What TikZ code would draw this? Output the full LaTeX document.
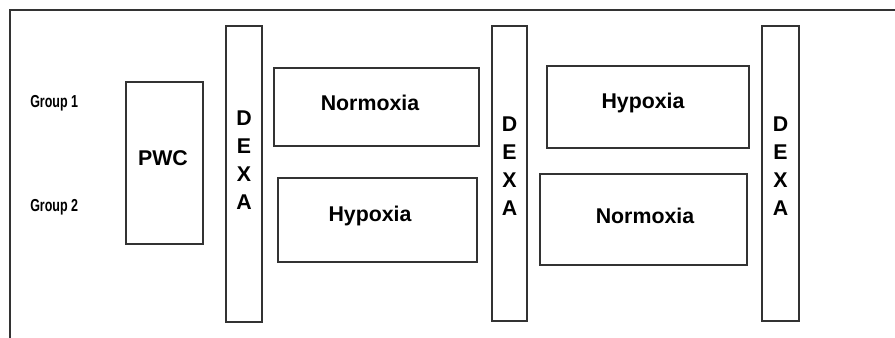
\documentclass[tikz,border=0pt]{standalone}
\usepackage{fontspec}
\setmainfont{Liberation Sans}
\begin{document}
\begin{tikzpicture}[x=0.75pt,y=-0.75pt,
  frame/.style={draw=black!80,line width=1.1pt},
  box/.style={draw=black!80,line width=1.1pt,rectangle,inner sep=0pt},
  sz/.style 2 args={minimum width=0.75*#1,minimum height=0.75*#2},
  lbl/.style={font=\fontsize{16}{21}\selectfont\bfseries,inner sep=0pt},
  col/.style={font=\fontsize{16}{21}\selectfont\bfseries,inner sep=0pt,align=center},
  grp/.style={font=\fontsize{13}{15}\selectfont\bfseries,inner sep=0pt,anchor=west}]
\useasboundingbox (0,0) rectangle (895,338);
% open outer frame
\draw[frame] (10,338) -- (10,10) -- (895,10);
% group labels
\node[grp] (g1) at (30,103) {\scalebox{0.72}[1]{Group 1}};
\node[grp] (g2) at (30,207) {\scalebox{0.72}[1]{Group 2}};
% PWC
\node[box,sz={77}{162}] (pwc) at (164.5,163) {};
\node[lbl] (pwct) at (163,158) {PWC};
% DEXA columns
\node[box,sz={36}{296}] (d1) at (244,174) {};
\node[col] (d1t) at (244,160) {D\\E\\X\\A};
\node[box,sz={35}{295}] (d2) at (509.5,173.5) {};
\node[col] (d2t) at (509.5,166) {D\\E\\X\\A};
\node[box,sz={37}{295}] (d3) at (780.5,173.5) {};
\node[col] (d3t) at (780.5,166) {D\\E\\X\\A};
% first phase
\node[box,sz={205}{78}] (n1) at (376.5,107) {};
\node[lbl] (n1t) at (370,103) {Normoxia};
\node[box,sz={199}{84}] (h1) at (377.5,220) {};
\node[lbl] (h1t) at (370,216) {Hypoxia};
% second phase
\node[box,sz={202}{82}] (h2) at (648,107) {};
\node[lbl] (h2t) at (643,103) {Hypoxia};
\node[box,sz={207}{91}] (n2) at (643.5,219.5) {};
\node[lbl] (n2t) at (645,216) {Normoxia};
\end{tikzpicture}
\end{document}
